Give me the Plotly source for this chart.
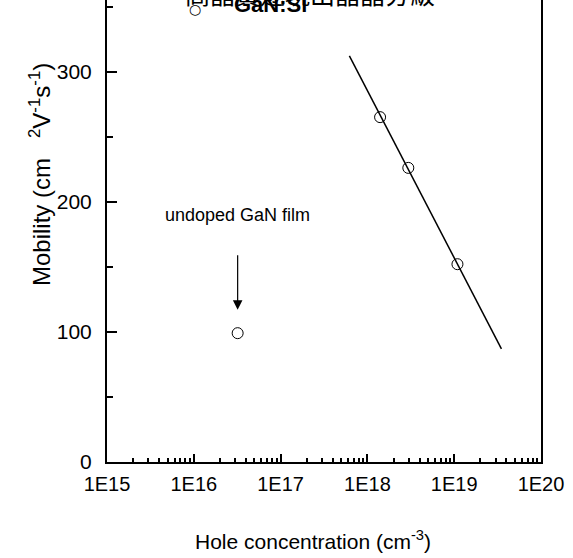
import plotly.graph_objects as go
import numpy as np

# Data
doped_conc = [1.4e18, 2.96e18, 1.09e19]
doped_mu = [265, 226, 152]
undoped_conc = [3.2e16]
undoped_mu = [99]
fit_conc = [6.2e17, 3.5e19]
fit_mu = [312, 87]
x_tickvals = [1e15, 1e16, 1e17, 1e18, 1e19, 1e20]
x_ticktext = ["1E15", "1E16", "1E17", "1E18", "1E19", "1E20"]
y_tickvals = [0, 100, 200, 300]

FONT = "Liberation Sans, Arial, sans-serif"

fig = go.Figure()
fig.add_trace(go.Scatter(x=fit_conc, y=fit_mu, mode="lines",
                         line=dict(color="black", width=1.5), showlegend=False))
fig.add_trace(go.Scatter(x=doped_conc, y=doped_mu, mode="markers",
                         marker=dict(symbol="circle-open", size=11, color="black",
                                     line=dict(width=1)), showlegend=False))
fig.add_trace(go.Scatter(x=undoped_conc, y=undoped_mu, mode="markers",
                         marker=dict(symbol="circle-open", size=11, color="black",
                                     line=dict(width=1)), showlegend=False))

W, H = 573, 558
L, R, T, B = 107, 32, 0, 96
PW, PH = W - L - R, H - T - B

fig.update_layout(
    width=W, height=H,
    margin=dict(l=L, r=R, t=T, b=B),
    paper_bgcolor="white", plot_bgcolor="white",
    font=dict(family=FONT, color="black", size=20),
    showlegend=False,
)
fig.update_xaxes(
    type="log", range=[15, 20],
    tickvals=x_tickvals, ticktext=x_ticktext,
    ticks="inside", ticklen=8, tickwidth=1.5, tickcolor="black",
    minor=dict(ticks="inside", ticklen=4, tickwidth=1.5, tickcolor="black", dtick="D1"),
    showline=True, linecolor="black", linewidth=2, mirror=False,
    showgrid=False, zeroline=False,
    tickfont=dict(size=20, family=FONT),
    ticklabelstandoff=3,
)
fig.update_yaxes(
    range=[0, 355],
    tickvals=y_tickvals,
    ticks="inside", ticklen=10, tickwidth=1.5, tickcolor="black",
    minor=dict(ticks="inside", ticklen=6, tickwidth=1.5, tickcolor="black", dtick=50),
    showline=True, linecolor="black", linewidth=2, mirror=True,
    showgrid=False, zeroline=False,
    tickfont=dict(size=21, family=FONT),
    ticklabelstandoff=9,
)

# axis titles as annotations
fig.add_annotation(xref="paper", yref="paper", x=(40 - L) / PW, y=1 - 175 / PH,
                   text="Mobility (cm   <sup>2</sup>V<sup>-1</sup>s<sup>-1</sup>)",
                   textangle=-90, showarrow=False, xanchor="center", yanchor="middle",
                   font=dict(size=24, family=FONT))
fig.add_annotation(xref="paper", yref="paper", x=(313 - L) / PW, y=(PH - 540) / PH,
                   text="Hole concentration (cm<sup>-3</sup>)",
                   showarrow=False, xanchor="center", yanchor="middle",
                   font=dict(size=21, family=FONT))

# label + arrow for undoped film
ux = np.log10(undoped_conc[0])
fig.add_annotation(x=ux, y=undoped_mu[0] + 91, text="undoped GaN film",
                   showarrow=False, xanchor="center", yanchor="middle",
                   font=dict(size=18, family=FONT))
fig.add_annotation(x=ux, y=undoped_mu[0] + 18, ax=0, ay=-56, text="",
                   showarrow=True, arrowhead=2, arrowsize=1.6, arrowwidth=1.2,
                   arrowcolor="black")

# clipped header text at the top
fig.add_annotation(xref="paper", yref="paper", x=(322 - L) / PW, y=1 - 13 / PH,
                   text="高晶質遂現出晶晶分級。", showarrow=False,
                   xanchor="center", yanchor="bottom",
                   font=dict(size=25, family="Noto Sans CJK TC"))
fig.add_annotation(xref="paper", yref="paper", x=(270 - L) / PW, y=1 - 19 / PH,
                   text="<b>GaN:Si</b>", showarrow=False,
                   xanchor="center", yanchor="bottom",
                   font=dict(size=22, family=FONT))
fig.add_annotation(xref="paper", yref="paper", x=(195 - L) / PW, y=1 - 19 / PH,
                   text="○", showarrow=False,
                   xanchor="center", yanchor="bottom",
                   font=dict(size=14, family="DejaVu Sans"))

fig.write_html("out.html")
